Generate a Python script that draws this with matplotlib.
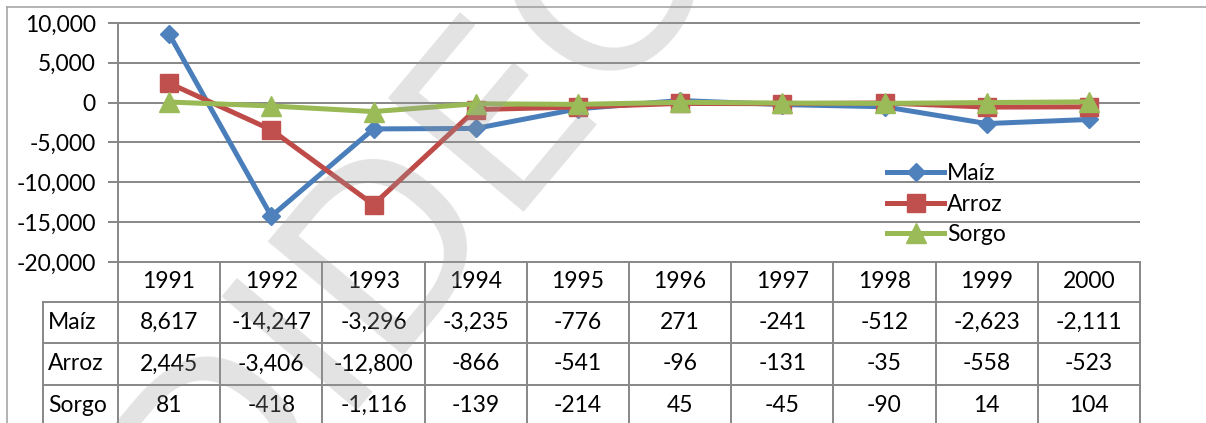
import matplotlib
matplotlib.use('Agg')
import matplotlib.pyplot as plt
from matplotlib.ticker import FuncFormatter

years = ['1991', '1992', '1993', '1994', '1995', '1996', '1997', '1998', '1999', '2000']
maiz = [8617, -14247, -3296, -3235, -776, 271, -241, -512, -2623, -2111]
arroz = [2445, -3406, -12800, -866, -541, -96, -131, -35, -558, -523]
sorgo = [81, -418, -1116, -139, -214, 45, -45, -90, 14, 104]
names = ['Maíz', 'Arroz', 'Sorgo']
yticks = [10000, 5000, 0, -5000, -10000, -15000, -20000]

plt.rcParams['font.family'] = ['Lato', 'DejaVu Sans']
FS = 16.5
GRID = '#878787'

W, H = 1206, 423
fig = plt.figure(figsize=(W / 100, H / 100), dpi=100)

def fx(px):
    return px / W

def fy(py):
    return 1 - py / H

# plot area in pixels
left, right, top, bottom = 118, 1140, 23, 262
ax = fig.add_axes([fx(left), fy(bottom), (right - left) / W, (bottom - top) / H])
ax.set_xlim(0, len(years))
ax.set_ylim(-20000, 10000)
ax.hlines(yticks, 0, len(years), color=GRID, lw=1.4, clip_on=False, zorder=1)

xs = [i + 0.5 for i in range(len(years))]
styles = [
    (maiz, '#4A7EBB', '#4F81BD', 'D', 9),
    (arroz, '#BE4B48', '#C0504D', 's', 13),
    (sorgo, '#98B954', '#9BBB59', '^', 14),
]
for (vals, lc, mc, mk, ms), name in zip(styles, names):
    ax.plot(xs, vals, color=lc, lw=3.6, marker=mk, ms=ms, mfc=mc, mec=mc,
            mew=1, label=name, clip_on=False, zorder=3)

for s in ['top', 'right', 'bottom']:
    ax.spines[s].set_visible(False)
ax.spines['left'].set_color(GRID)
ax.spines['left'].set_linewidth(1.4)
ax.set_xticks([])
ax.set_yticks(yticks)
ax.yaxis.set_major_formatter(FuncFormatter(lambda v, p: f'{int(v):,}'))
ax.tick_params(axis='y', direction='out', length=7, width=1.4, color=GRID,
               labelsize=FS, pad=9)

ax.legend(loc='upper left', bbox_to_anchor=(fx(876), fy(152)),
          bbox_transform=fig.transFigure, frameon=False, fontsize=FS,
          handlelength=2.45, handletextpad=0.15, labelspacing=0.40,
          borderpad=0, numpoints=1)

# overlay in pixel coordinates for the frame and the data table
ov = fig.add_axes([0, 0, 1, 1], zorder=-1)
ov.set_xlim(0, W)
ov.set_ylim(H, 0)
ov.axis('off')

ov.plot([7, W], [7, 7], color='#a6a6a6', lw=1.2)
ov.plot([7, 7], [7, H], color='#a6a6a6', lw=1.2)

col_w = (right - left) / len(years)
row_y = [262, 302, 343, 385, 440]
lab_x = 43
for k in range(len(years) + 1):
    ov.plot([left + k * col_w] * 2, [row_y[0], row_y[-1]], color=GRID, lw=1.4)
ov.plot([lab_x, lab_x], [row_y[1], row_y[-1]], color=GRID, lw=1.4)
for y in row_y[1:-1]:
    ov.plot([lab_x, right], [y, y], color=GRID, lw=1.4)

for k, yr in enumerate(years):
    cx = left + (k + 0.5) * col_w
    ov.text(cx, (row_y[0] + row_y[1]) / 2, yr, ha='center', va='center', fontsize=FS)
for r, (vals, name) in enumerate(zip([maiz, arroz, sorgo], names)):
    cy = (row_y[r + 1] + row_y[r + 2]) / 2 if r < 2 else 405
    ov.text(lab_x + 5, cy, name, ha='left', va='center', fontsize=FS)
    for k, v in enumerate(vals):
        cx = left + (k + 0.5) * col_w
        ov.text(cx, cy, f'{v:,}', ha='center', va='center', fontsize=FS)

# faint watermark over the chart
fig.text(fx(410), fy(215), 'DIDEC', rotation=50, fontsize=175, color='#9a9a9a',
         alpha=0.28, ha='center', va='center', family='DejaVu Sans', zorder=100)

fig.savefig('out.png', dpi=100)
